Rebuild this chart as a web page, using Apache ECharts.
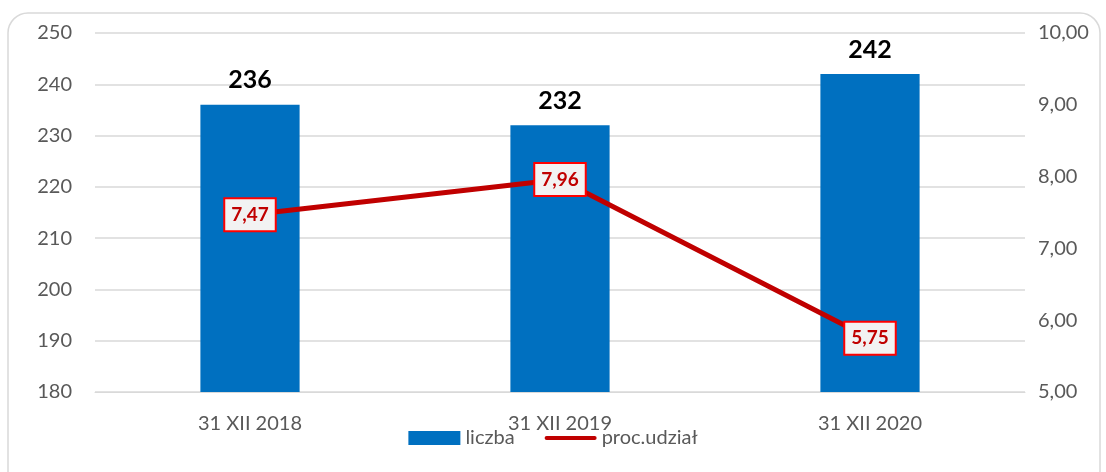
<!DOCTYPE html>
<html>
<head>
<meta charset="utf-8">
<script src="https://cdn.jsdelivr.net/npm/echarts@6/dist/echarts.min.js"></script>
<style>
  html, body { margin: 0; padding: 0; background: #fff; }
  #chart { width: 1106px; height: 472px; }
</style>
</head>
<body>
<div id="chart"></div>
<script>
var categories = ['31 XII 2018', '31 XII 2019', '31 XII 2020'];
var liczba = [236, 232, 242];
var udzial = [7.47, 7.96, 5.75];

var myChart = echarts.init(document.getElementById('chart'));

function comma(v, d) {
    return v.toFixed(d).replace('.', ',');
}

var option = {
    backgroundColor: '#fff',
    textStyle: { fontFamily: 'Lato' },
    graphic: [{
        type: 'rect',
        shape: { x: 8, y: 13, width: 1092, height: 480, r: 20 },
        style: { fill: 'none', stroke: '#d9d9d9', lineWidth: 1.5 },
        silent: true
    }],
    grid: { left: 95, right: 81, top: 33, bottom: 80 },
    legend: {
        bottom: 19,
        left: 'center',
        itemWidth: 52,
        itemHeight: 14,
        itemGap: 30,
        textStyle: { fontFamily: 'Lato', fontSize: 20, color: '#595959' },
        data: [
            { name: 'liczba', icon: 'rect' },
            { name: 'proc.udział', icon: 'path://M2,0 L50,0 A2,2 0 0 1 50,4 L2,4 A2,2 0 0 1 2,0 Z' }
        ]
    },
    xAxis: {
        type: 'category',
        data: categories,
        axisLine: { show: true, lineStyle: { color: '#d9d9d9' } },
        axisTick: { show: false },
        axisLabel: { fontFamily: 'Lato', fontSize: 20, color: '#595959', margin: 22 }
    },
    yAxis: [{
        type: 'value',
        min: 180,
        max: 250,
        interval: 10,
        axisLine: { show: false },
        axisTick: { show: false },
        splitLine: { lineStyle: { color: '#d9d9d9', width: 1.5 } },
        axisLabel: { fontFamily: 'Lato', fontSize: 20, color: '#595959', margin: 23 }
    }, {
        type: 'value',
        min: 5,
        max: 10,
        interval: 1,
        axisLine: { show: false },
        axisTick: { show: false },
        splitLine: { show: false },
        axisLabel: {
            fontFamily: 'Lato', fontSize: 20, color: '#595959', margin: 13,
            formatter: function (v) { return comma(v, 2); }
        }
    }],
    series: [{
        name: 'liczba',
        type: 'bar',
        data: liczba,
        barWidth: '32%',
        itemStyle: { color: '#0070C0' },
        label: {
            show: true,
            position: 'top',
            distance: 12,
            fontFamily: 'Lato',
            fontSize: 25,
            fontWeight: 'bold',
            color: '#000'
        }
    }, {
        name: 'proc.udział',
        type: 'line',
        yAxisIndex: 1,
        data: udzial,
        symbol: 'circle',
        symbolSize: 1,
        showSymbol: true,
        lineStyle: { color: '#C00000', width: 5 },
        itemStyle: { color: '#C00000' },
        label: {
            show: true,
            position: 'inside',
            formatter: function (p) { return comma(p.value, 2); },
            fontFamily: 'Lato',
            fontSize: 19,
            fontWeight: 'bold',
            color: '#C00000',
            backgroundColor: '#f2f2f2',
            borderColor: '#ff0000',
            borderWidth: 2,
            padding: [7, 6, 5, 6]
        },
        z: 5
    }]
};

myChart.setOption(option);
</script>
</body>
</html>
